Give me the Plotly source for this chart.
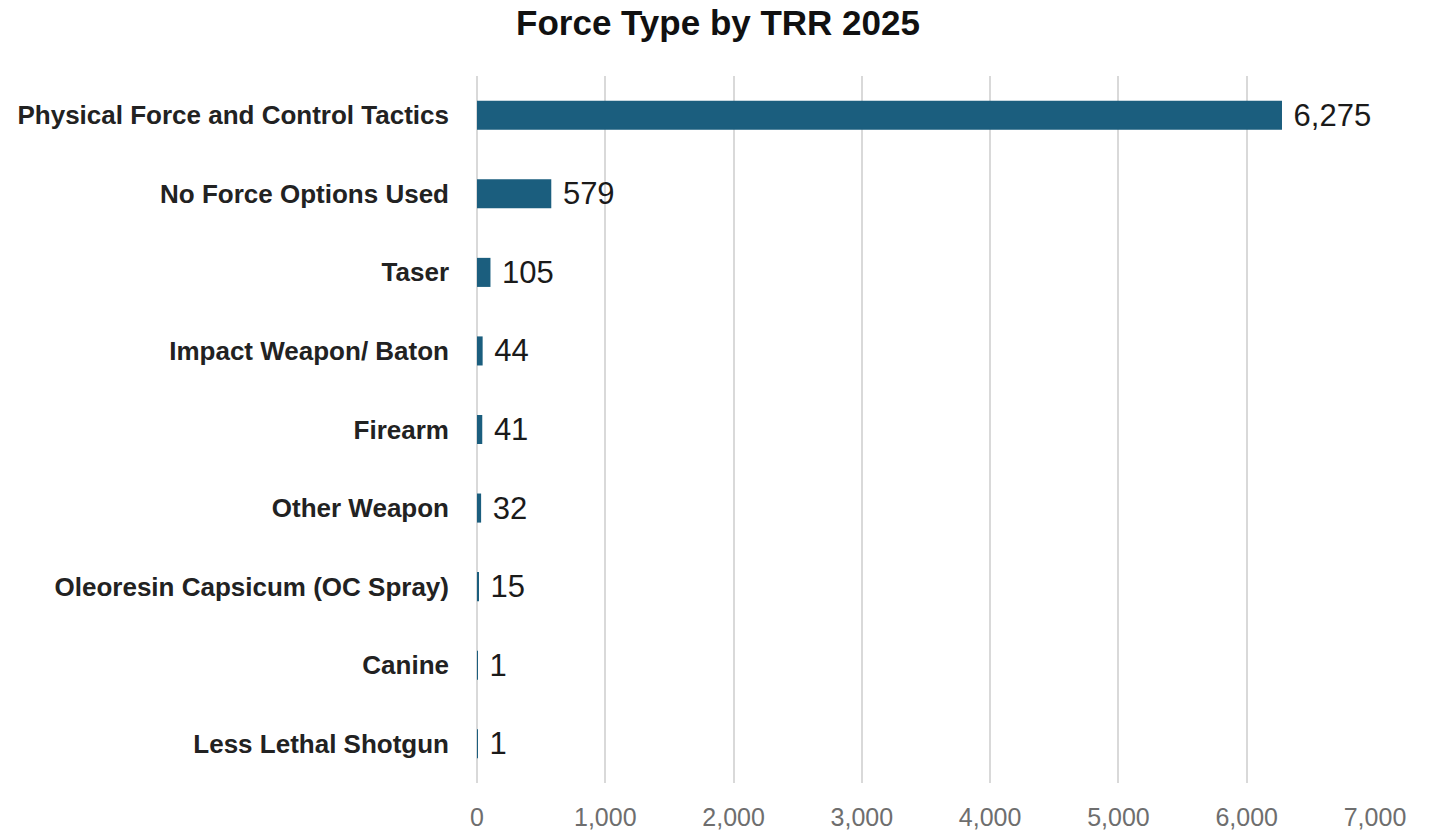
import plotly.graph_objects as go

categories = [
    "Physical Force and Control Tactics",
    "No Force Options Used",
    "Taser",
    "Impact Weapon/ Baton",
    "Firearm",
    "Other Weapon",
    "Oleoresin Capsicum (OC Spray)",
    "Canine",
    "Less Lethal Shotgun",
]
counts = [6275, 579, 105, 44, 41, 32, 15, 1, 1]
tick_values = [0, 1000, 2000, 3000, 4000, 5000, 6000, 7000]

BAR_COLOR = "#1b5e7e"
FONT = "Liberation Sans, Arial, sans-serif"

fig = go.Figure(
    go.Bar(
        x=counts,
        y=categories,
        orientation="h",
        marker=dict(color=BAR_COLOR, line=dict(width=0)),
        width=0.37,
        texttemplate="\u00a0%{x:,}",
        textposition="outside",
        constraintext="none",
        textfont=dict(family=FONT, size=31, color="#1a1a1a"),
        cliponaxis=False,
    )
)

fig.update_layout(
    width=1431,
    height=831,
    margin=dict(l=477, r=56, t=76, b=48, autoexpand=False),
    paper_bgcolor="white",
    plot_bgcolor="white",
    showlegend=False,
    title=dict(
        text="Force Type by TRR 2025",
        x=718 / 1431,
        xanchor="center",
        y=1 - 23 / 831,
        yanchor="middle",
        font=dict(family=FONT, size=35, color="#111111", weight="bold"),
    ),
    xaxis=dict(
        range=[0, 7000],
        tickvals=tick_values,
        tickformat=",",
        showgrid=True,
        gridcolor="#d9d9d9",
        gridwidth=1.5,
        zeroline=True,
        zerolinecolor="#d9d9d9",
        zerolinewidth=1.5,
        showline=False,
        ticks="",
        tickfont=dict(family=FONT, size=25, color="#6e6e6e"),
        ticklabelstandoff=17,
        automargin=False,
    ),
    yaxis=dict(
        categoryorder="array",
        categoryarray=categories[::-1],
        showgrid=False,
        zeroline=False,
        showline=False,
        ticks="",
        tickfont=dict(family=FONT, size=26, color="#222222", weight="bold"),
        ticklabelstandoff=27,
        automargin=False,
    ),
)

fig.write_html("out.html")
